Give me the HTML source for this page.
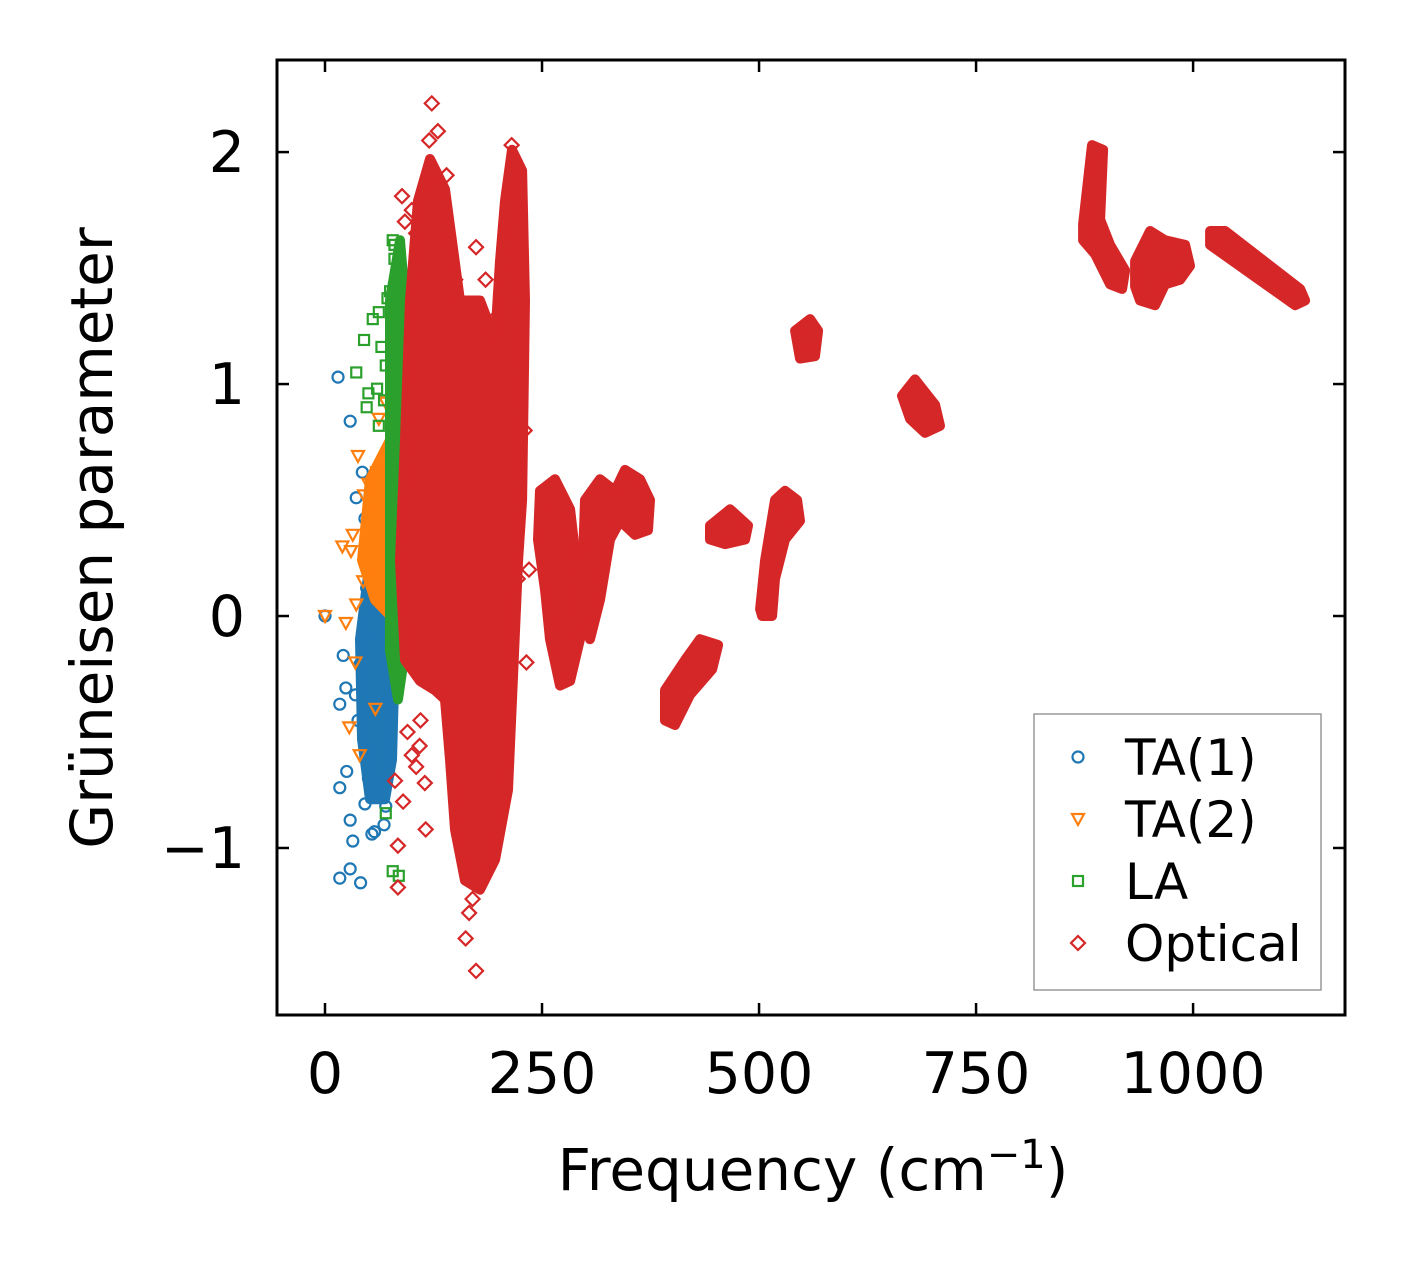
<!DOCTYPE html>
<html><head><meta charset="utf-8"><style>
body{margin:0;background:#fff}
svg{display:block;font-family:"DejaVu Sans","Liberation Sans",sans-serif}
</style></head><body>
<svg id="chart" width="1406" height="1264" viewBox="0 0 1406 1264">
<rect width="1406" height="1264" fill="#fff"/>
<g id="marks"></g>
<rect x="277" y="60" width="1068" height="955" fill="none" stroke="#000" stroke-width="3"/>
<g id="ticks"></g>
<text x="813" y="1190" font-size="58" text-anchor="middle">Frequency (cm<tspan dy="-22" font-size="40">−1</tspan><tspan dy="22">)</tspan></text>
<text transform="translate(112,538) rotate(-90)" font-size="58" text-anchor="middle">Grüneisen parameter</text>
<g>
<rect x="1034" y="714" width="287" height="276" fill="#fff" stroke="#999" stroke-width="1.5"/>
<g id="legend"></g>
</g>
</svg>
<script>
const xTicks=[0,250,500,750,1000];
const yTicks=[-1,0,1,2];
const yTickLabels=["−1","0","1","2"];
const xMin=-55.3,xMax=1175,yMin=-1.72,yMax=2.397;
const L=277,R=1345,T=60,B=1015;
const X=v=>L+(v-xMin)/(xMax-xMin)*(R-L);
const Y=v=>B-(v-yMin)/(yMax-yMin)*(B-T);
const NS="http://www.w3.org/2000/svg";
const colors={ta1:"#1f77b4",ta2:"#ff7f0e",la:"#2ca02c",opt:"#d62728"};

// dense-region outlines [freq, gamma]
const ta1Region=[[51.8,0.24],[74.9,0.26],[80.6,-0.15],[77.2,-0.62],[69.1,-0.79],[51.8,-0.79],[42.6,-0.53],[40.3,-0.10]];
const ta2Region=[[51.8,0.59],[80.6,0.80],[88.7,0.72],[88.7,0.07],[80.6,-0.02],[57.6,0.07],[42.6,0.24]];
const laRegion=[[74.9,1.36],[86.4,1.62],[92.2,1.36],[92.2,-0.15],[84.1,-0.36],[74.9,-0.15]];
const optRegions=[
[[107.1,1.79],[121,1.97],[138.2,1.84],[155.5,1.36],[178.6,1.36],[195.9,1.19],[201.6,1.53],[207.4,1.79],[215.4,2.01],[227,1.92],[230.4,1.36],[227,0.5],[222.4,0.24],[215.4,-0.36],[210.8,-0.75],[195.9,-1.05],[178.6,-1.18],[161.3,-1.14],[149.8,-0.92],[144,-0.62],[138.2,-0.36],[126.7,-0.32],[109.4,-0.28],[92.2,-0.19],[86.4,0.24],[92.2,0.76],[97.9,1.36]],
[[247.7,0.54],[265,0.59],[282.3,0.46],[291.5,0.16],[293.8,-0.1],[282.3,-0.28],[270.7,-0.3],[259.2,-0.1],[253.5,0.11],[245.4,0.33]],
[[299.5,0.5],[316.8,0.59],[334.1,0.54],[345.6,0.63],[362.9,0.59],[374.4,0.5],[372.1,0.37],[357.1,0.35],[339.9,0.41],[328.3,0.33],[316.8,0.07],[305.3,-0.1],[297.2,-0.02],[297.2,0.24]],
[[391.7,-0.32],[414.7,-0.19],[432,-0.1],[452.8,-0.125],[445.9,-0.23],[420.5,-0.34],[403.2,-0.47],[391.7,-0.45]],
[[443.5,0.39],[466.6,0.46],[487.3,0.39],[483.9,0.33],[460.9,0.31],[443.5,0.33]],
[[501.2,0.03],[507,0.24],[518.4,0.5],[530,0.54],[543.8,0.5],[547.2,0.41],[529.9,0.33],[518.4,0.16],[515,0],[503.5,0]],
[[541.5,1.23],[558.8,1.28],[568,1.23],[564.5,1.12],[547.2,1.11]],
[[664.7,0.95],[679.7,1.02],[702.8,0.91],[708.5,0.82],[691.2,0.79],[673.9,0.85]],
[[873.3,1.69],[883.6,2.03],[896.3,2.01],[892.9,1.71],[904.4,1.6],[921.7,1.49],[918.2,1.41],[904.4,1.43],[887.1,1.56],[873.3,1.62]],
[[933.2,1.53],[950.5,1.66],[967.7,1.62],[990.8,1.6],[996.5,1.51],[985,1.45],[967.7,1.43],[956.2,1.34],[938.9,1.36],[933.2,1.42]],
[[1019.6,1.66],[1036.9,1.66],[1123.3,1.41],[1129,1.36],[1117.5,1.34],[1019.6,1.6]]
];
// scattered points
const ta1Freq=[15,29,43,36,0,21,17,24,35,40,17,25,29,32,17,29,41,46,54,50,38,46,52,60,55,48,62,58,44,64,68,57,50,70];
const ta1Gamma=[1.03,0.84,0.62,0.51,0,-0.17,-0.38,-0.31,-0.34,-0.21,-0.74,-0.67,-0.88,-0.97,-1.13,-1.09,-1.15,-0.81,-0.94,-0.59,-0.45,0.42,0.36,0.27,0.18,0.12,0.5,0.05,-0.1,0.22,-0.9,-0.93,-0.7,-0.82];
const ta2Freq=[0,20,32,38,45,30,24,36,50,55,60,28,40,35,62,52,70,44,58];
const ta2Gamma=[0,0.3,0.35,0.69,0.52,0.28,-0.03,0.05,0.57,0.45,0.62,-0.48,-0.6,-0.2,0.85,0.3,0.92,0.15,-0.4];
const laFreq=[78,80,75,72,62,45,55,36,48,65,70,60,68,83,82,80,62,50,78,85,70];
const laGamma=[1.62,1.54,1.4,1.37,1.31,1.19,1.28,1.05,0.9,1.16,1.08,0.98,0.93,1.3,1.22,1.6,0.82,0.96,-1.1,-1.12,-0.85];
const optFreq=[123,130,88.7,174,174,162,84,116,84,115,109,80.6,215,222,92,100,120,105,140,150,185,200,95,110,105,230,235,232,166,170,90,100];
const optGamma=[2.21,2.09,1.81,1.59,-1.53,-1.39,-1.17,-0.92,-0.99,-0.72,-0.56,-0.71,2.03,0.16,1.7,1.75,2.05,1.65,1.9,1.45,1.45,1.3,-0.5,-0.45,-0.65,0.8,0.2,-0.2,-1.28,-1.22,-0.8,-0.6];

const marks=document.getElementById('marks');
function region(pts,color,name){
  const p=document.createElementNS(NS,'path');
  p.setAttribute('d','M'+pts.map(q=>X(q[0]).toFixed(1)+','+Y(q[1]).toFixed(1)).join('L')+'Z');
  p.setAttribute('fill',color);p.setAttribute('stroke',color);p.setAttribute('stroke-width','10');p.setAttribute('stroke-linejoin','round');
  
  
  marks.appendChild(p);
}
function marker(kind,cx,cy,color,parent){
  let e;
  if(kind==='o'){e=document.createElementNS(NS,'circle');e.setAttribute('cx',cx);e.setAttribute('cy',cy);e.setAttribute('r',5.5);}
  else if(kind==='v'){e=document.createElementNS(NS,'path');e.setAttribute('d',`M${cx-6},${cy-5}L${cx+6},${cy-5}L${cx},${cy+6}Z`);}
  else if(kind==='s'){e=document.createElementNS(NS,'rect');e.setAttribute('x',cx-5);e.setAttribute('y',cy-5);e.setAttribute('width',10);e.setAttribute('height',10);}
  else {e=document.createElementNS(NS,'path');e.setAttribute('d',`M${cx},${cy-7}L${cx+7},${cy}L${cx},${cy+7}L${cx-7},${cy}Z`);}
  e.setAttribute('fill','none');e.setAttribute('stroke',color);e.setAttribute('stroke-width','2.2');
  parent.appendChild(e);return e;
}
function series(fx,gy,kind,color,name){
  fx.forEach((f,i)=>{const e=marker(kind,X(f),Y(gy[i]),color,marks);
    
    });
}
region(ta1Region,colors.ta1,'ta1-dense-region');
series(ta1Freq,ta1Gamma,'o',colors.ta1,'ta1-point');
region(ta2Region,colors.ta2,'ta2-dense-region');
series(ta2Freq,ta2Gamma,'v',colors.ta2,'ta2-point');
region(laRegion,colors.la,'la-dense-region');
series(laFreq,laGamma,'s',colors.la,'la-point');
optRegions.forEach(r=>region(r,colors.opt,'optical-dense-region'));
series(optFreq,optGamma,'d',colors.opt,'optical-point');

const ticks=document.getElementById('ticks');
function line(x1,y1,x2,y2){const l=document.createElementNS(NS,'line');l.setAttribute('x1',x1);l.setAttribute('y1',y1);l.setAttribute('x2',x2);l.setAttribute('y2',y2);l.setAttribute('stroke','#000');l.setAttribute('stroke-width','2.5');
  
  
  ticks.appendChild(l);}
function text(x,y,s,anchor,name){const t=document.createElementNS(NS,'text');t.setAttribute('x',x);t.setAttribute('y',y);t.setAttribute('font-size','57');t.setAttribute('text-anchor',anchor);t.textContent=s;
  
  
  ticks.appendChild(t);}
xTicks.forEach(v=>{const x=X(v);line(x,B,x,B-12);line(x,T,x,T+12);text(x,1093,String(v),'middle','x-tick-label');});
yTicks.forEach((v,i)=>{const y=Y(v);line(L,y,L+12,y);line(R,y,R-12,y);text(245,y+20,yTickLabels[i],'end','y-tick-label');});

const legendNames=['TA(1)','TA(2)','LA','Optical'];
const legendKinds=['o','v','s','d'];
const legendColors=[colors.ta1,colors.ta2,colors.la,colors.opt];
const lg=document.getElementById('legend');
legendNames.forEach((n,i)=>{
  const y=757+i*62;
  const g=document.createElementNS(NS,'g');
  
  
  marker(legendKinds[i],1078,y,legendColors[i],g);
  const t=document.createElementNS(NS,'text');t.setAttribute('x',1125);t.setAttribute('y',y+18);t.setAttribute('font-size','50');t.textContent=n;
  g.appendChild(t);lg.appendChild(g);
});
</script>
</body></html>
